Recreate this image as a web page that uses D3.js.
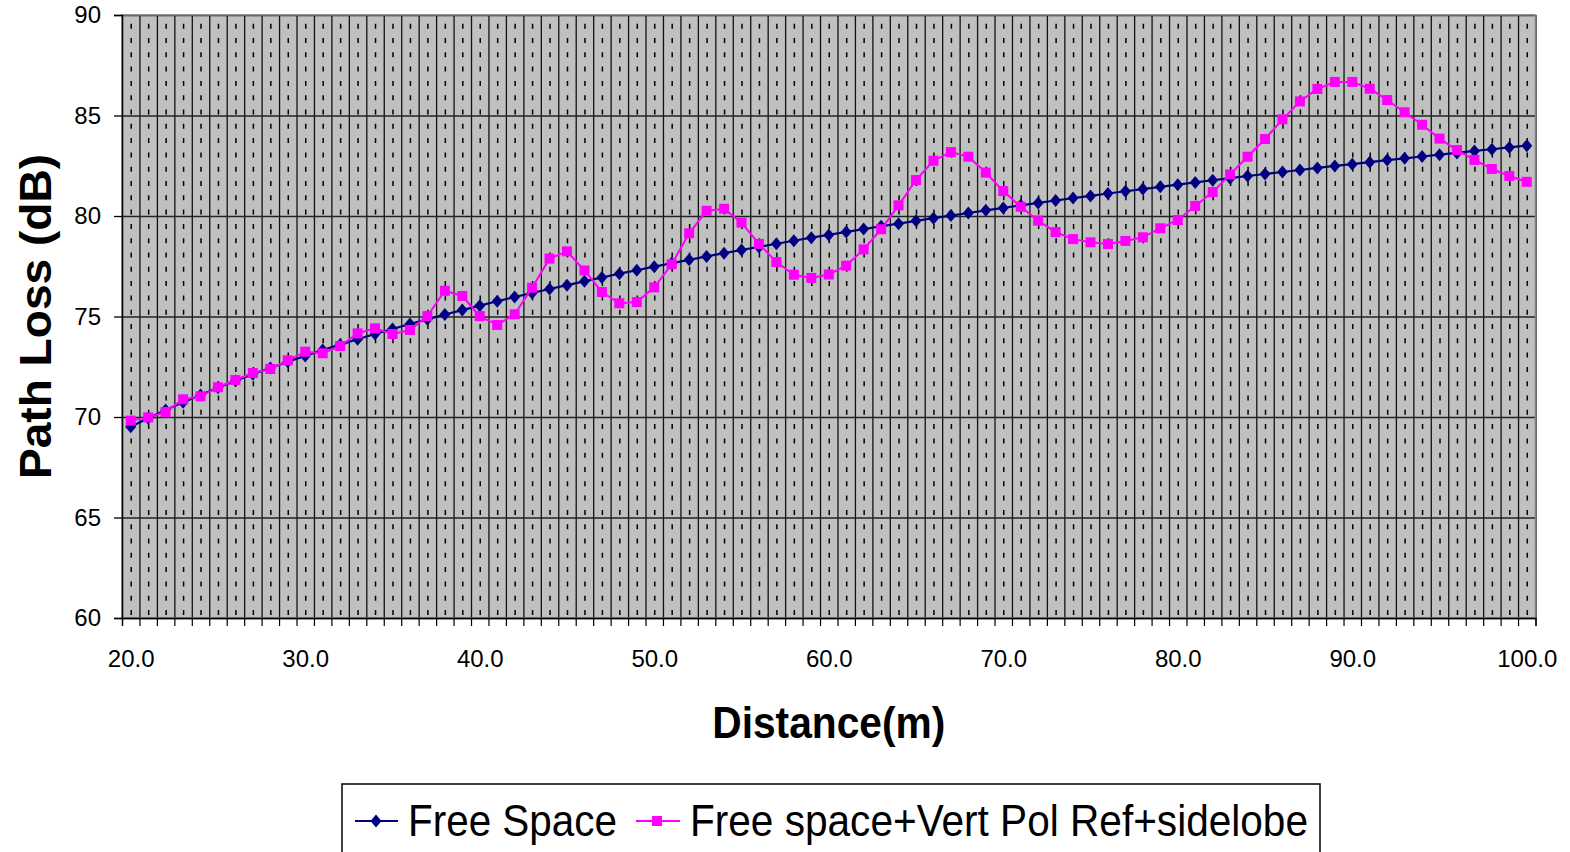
<!DOCTYPE html>
<html lang="en">
<head>
  <meta charset="UTF-8">
  <title>Path Loss vs Distance</title>
  <script src="https://d3js.org/d3.v7.min.js"></script>
  <style>
    body { margin: 0; background: #fff; }
    svg { display: block; font-family: "Liberation Sans", Arial, sans-serif; }
  </style>
</head>
<body>
<div id="chart"></div>
<script>
// distances (m), one per category
var distances = [20,21,22,23,24,25,26,27,28,29,30,31,32,33,34,35,36,37,38,39,40,
  41,42,43,44,45,46,47,48,49,50,51,52,53,54,55,56,57,58,59,60,
  61,62,63,64,65,66,67,68,69,70,71,72,73,74,75,76,77,78,79,80,
  81,82,83,84,85,86,87,88,89,90,91,92,93,94,95,96,97,98,99,100];

// path loss (dB)
var freeSpace = [69.52,69.94,70.35,70.73,71.10,71.46,71.80,72.13,72.44,72.75,73.04,
  73.33,73.60,73.87,74.13,74.38,74.63,74.86,75.10,75.32,75.54,
  75.76,75.97,76.17,76.37,76.56,76.75,76.94,77.13,77.30,77.48,
  77.65,77.82,77.99,78.15,78.31,78.46,78.62,78.77,78.92,79.06,
  79.21,79.35,79.49,79.62,79.76,79.89,80.02,80.15,80.28,80.40,
  80.53,80.65,80.77,80.89,81.00,81.12,81.23,81.34,81.45,81.56,
  81.67,81.78,81.88,81.99,82.09,82.19,82.29,82.39,82.49,82.58,
  82.68,82.78,82.87,82.96,83.05,83.14,83.24,83.32,83.41,83.50];

var vertPolSidelobe = [69.82,69.98,70.25,70.88,71.03,71.48,71.84,72.19,72.39,72.82,73.25,
  73.17,73.53,74.16,74.41,74.13,74.33,75.02,76.28,76.02,75.02,
  74.58,75.11,76.43,77.88,78.24,77.29,76.22,75.66,75.72,76.45,
  77.60,79.14,80.26,80.36,79.67,78.61,77.71,77.08,76.92,77.09,
  77.53,78.34,79.34,80.53,81.79,82.75,83.18,82.95,82.16,81.24,
  80.46,79.77,79.20,78.85,78.69,78.61,78.76,78.94,79.39,79.80,
  80.50,81.19,82.07,82.95,83.83,84.81,85.70,86.32,86.67,86.67,
  86.33,85.77,85.16,84.54,83.85,83.28,82.79,82.34,81.99,81.70];

var yTicks = [60,65,70,75,80,85,90];
var xLabels = [20,30,40,50,60,70,80,90,100];

var W = 1570, H = 852;
var margin = {top: 15, left: 122, right: 34.5, bottom: 234};
var width = W - margin.left - margin.right,
    height = H - margin.top - margin.bottom;

var svg = d3.select("#chart").append("svg")
  .attr("width", W).attr("height", H);

var g = svg.append("g")
  .attr("transform", "translate(" + margin.left + "," + margin.top + ")");

// category axis: each distance sits in the middle of its slot
var x = d3.scaleLinear().domain([19.5, 100.5]).range([0, width]);
var y = d3.scaleLinear().domain([60, 90]).range([height, 0]);
var bounds = distances.map(function(d) { return d - 0.5; }).concat([100.5]);

// plot background
g.append("rect")
  .attr("width", width).attr("height", height)
  .attr("fill", "#c0c0c0");

// dashed gridlines at the points
g.append("g")
  .attr("transform", "translate(0," + height + ")")
  .call(d3.axisBottom(x).tickValues(distances).tickSize(-height).tickFormat(""))
  .call(function(s) {
    s.select(".domain").remove();
    s.selectAll("line").attr("stroke", "#000").attr("stroke-width", 1.5)
      .attr("stroke-dasharray", "5,9.3").attr("stroke-dashoffset", -3);
  });

// solid gridlines between the categories
g.append("g")
  .attr("transform", "translate(0," + height + ")")
  .call(d3.axisBottom(x).tickValues(bounds).tickSize(-height).tickFormat(""))
  .call(function(s) {
    s.select(".domain").remove();
    s.selectAll("line").attr("stroke", "#111").attr("stroke-width", 1.3);
  });

// horizontal gridlines
g.append("g")
  .call(d3.axisLeft(y).tickValues(yTicks).tickSize(-width).tickFormat(""))
  .call(function(s) {
    s.select(".domain").remove();
    s.selectAll("line").attr("stroke", "#222").attr("stroke-width", 1.3);
  });

// plot border
g.append("rect")
  .attr("width", width).attr("height", height)
  .attr("fill", "none").attr("stroke", "#808080").attr("stroke-width", 1.5);

// y axis
g.append("g")
  .call(d3.axisLeft(y).tickValues(yTicks).tickSize(8).tickPadding(13))
  .call(function(s) {
    s.select(".domain").attr("stroke", "#000").attr("stroke-width", 1.3);
    s.selectAll("line").attr("stroke", "#000").attr("stroke-width", 1.3);
    s.selectAll("text").attr("font-size", 24).attr("fill", "#000")
      .attr("font-family", "Liberation Sans, Arial, sans-serif");
  });

// x axis tick marks
g.append("g")
  .attr("transform", "translate(0," + height + ")")
  .call(d3.axisBottom(x).tickValues(bounds).tickSize(8).tickFormat(""))
  .call(function(s) {
    s.select(".domain").attr("stroke", "#000").attr("stroke-width", 1.3);
    s.selectAll("line").attr("stroke", "#000").attr("stroke-width", 1.2);
  });

// x axis labels
g.append("g")
  .attr("transform", "translate(0," + height + ")")
  .call(d3.axisBottom(x).tickValues(xLabels).tickSize(0).tickPadding(32).tickFormat(d3.format(".1f")))
  .call(function(s) {
    s.select(".domain").remove();
    s.selectAll("text").attr("font-size", 24).attr("fill", "#000")
      .attr("font-family", "Liberation Sans, Arial, sans-serif");
  });

// series
var seriesLine = d3.line()
  .x(function(d, i) { return x(distances[i]); })
  .y(function(d) { return y(d); });

var diamond = "M0,-6.5L5.5,0L0,6.5L-5.5,0Z";

g.append("path").datum(freeSpace)
  .attr("fill", "none").attr("stroke", "#000080").attr("stroke-width", 2.2)
  .attr("d", seriesLine);

g.selectAll(".fs").data(freeSpace).enter().append("path")
  .attr("class", "fs")
  .attr("transform", function(d, i) { return "translate(" + x(distances[i]) + "," + y(d) + ")"; })
  .attr("d", diamond)
  .attr("fill", "#000080");

g.append("path").datum(vertPolSidelobe)
  .attr("fill", "none").attr("stroke", "#ff00ff").attr("stroke-width", 2)
  .attr("d", seriesLine);

g.selectAll(".vp").data(vertPolSidelobe).enter().append("rect")
  .attr("class", "vp")
  .attr("x", function(d, i) { return x(distances[i]) - 5; })
  .attr("y", function(d) { return y(d) - 5; })
  .attr("width", 10).attr("height", 10)
  .attr("fill", "#ff00ff");

// axis titles
svg.append("text")
  .attr("x", margin.left + width / 2).attr("y", 738)
  .attr("text-anchor", "middle")
  .attr("font-size", 45).attr("font-weight", "bold")
  .attr("textLength", 233).attr("lengthAdjust", "spacingAndGlyphs")
  .text("Distance(m)");

svg.append("text")
  .attr("transform", "translate(51," + (margin.top + height / 2) + ") rotate(-90)")
  .attr("text-anchor", "middle")
  .attr("font-size", 45).attr("font-weight", "bold")
  .attr("textLength", 325).attr("lengthAdjust", "spacingAndGlyphs")
  .text("Path Loss (dB)");

// legend
var legend = svg.append("g");
legend.append("rect")
  .attr("x", 342).attr("y", 784).attr("width", 978).attr("height", 90)
  .attr("fill", "#fff").attr("stroke", "#000").attr("stroke-width", 1.5);

legend.append("line").attr("x1", 355).attr("x2", 398).attr("y1", 821).attr("y2", 821)
  .attr("stroke", "#000080").attr("stroke-width", 2.2);
legend.append("path").attr("transform", "translate(376,821)").attr("d", diamond)
  .attr("fill", "#000080");
legend.append("text").attr("x", 408).attr("y", 836)
  .attr("font-size", 45).attr("textLength", 209).attr("lengthAdjust", "spacingAndGlyphs")
  .text("Free Space");

legend.append("line").attr("x1", 636).attr("x2", 680).attr("y1", 821).attr("y2", 821)
  .attr("stroke", "#ff00ff").attr("stroke-width", 2);
legend.append("rect").attr("x", 652).attr("y", 816).attr("width", 10).attr("height", 10)
  .attr("fill", "#ff00ff");
legend.append("text").attr("x", 690).attr("y", 836)
  .attr("font-size", 45).attr("textLength", 618).attr("lengthAdjust", "spacingAndGlyphs")
  .text("Free space+Vert Pol Ref+sidelobe");
</script>
</body>
</html>
